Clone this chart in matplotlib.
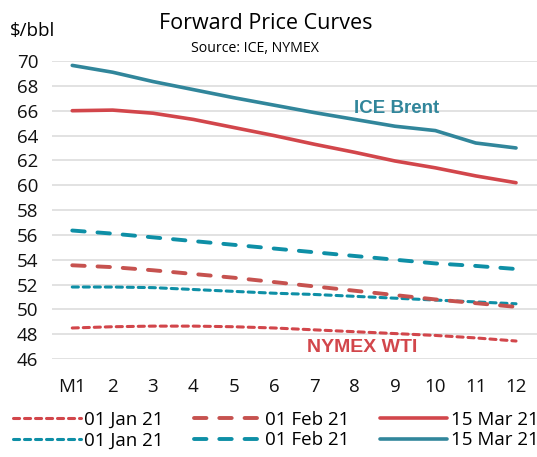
import numpy as np
import matplotlib
matplotlib.use("Agg")
import matplotlib.pyplot as plt

plt.rcParams['font.family'] = ['Open Sans', 'DejaVu Sans']

months = list(range(1, 13))
month_labels = ['M1', '2', '3', '4', '5', '6', '7', '8', '9', '10', '11', '12']

wti_jan = [48.5, 48.6, 48.65, 48.65, 48.6, 48.5, 48.35, 48.2, 48.05, 47.9, 47.7, 47.45]
wti_feb = [53.55, 53.4, 53.15, 52.85, 52.55, 52.2, 51.85, 51.5, 51.15, 50.8, 50.5, 50.2]
wti_mar = [66.0, 66.05, 65.8, 65.3, 64.65, 64.0, 63.3, 62.65, 61.95, 61.4, 60.75, 60.2]
brent_jan = [51.8, 51.8, 51.75, 51.6, 51.45, 51.3, 51.2, 51.05, 50.9, 50.75, 50.6, 50.45]
brent_feb = [56.35, 56.1, 55.8, 55.5, 55.2, 54.9, 54.6, 54.3, 54.0, 53.7, 53.5, 53.25]
brent_mar = [69.65, 69.1, 68.35, 67.7, 67.05, 66.45, 65.85, 65.3, 64.75, 64.4, 63.4, 63.0]

red = '#d2464b'
red_dash = '#c6524f'
teal = '#31869b'
teal_dash = '#0e8fa6'

fig = plt.figure(figsize=(5.37, 4.57), dpi=100)
ax = fig.add_axes([0.097, 0.2144, 0.903, 0.652])

ln = {}
ln['wj'], = ax.plot(months, wti_jan, color=red, lw=2.2, dashes=(2.0, 1.6), dash_capstyle='round')
ln['bj'], = ax.plot(months, brent_jan, color=teal_dash, lw=2.2, dashes=(2.0, 1.6), dash_capstyle='round')
ln['wf'], = ax.plot(months, wti_feb, color=red_dash, lw=2.8, dashes=(3.2, 3.3), dash_capstyle='round')
ln['bf'], = ax.plot(months, brent_feb, color=teal_dash, lw=2.8, dashes=(3.2, 3.3), dash_capstyle='round')
ln['wm'], = ax.plot(months, wti_mar, color=red, lw=2.6, solid_capstyle='round')
ln['bm'], = ax.plot(months, brent_mar, color=teal, lw=2.6, solid_capstyle='round')

ax.set_xlim(0.5, 12.52)
ax.set_ylim(46, 70)
ax.set_yticks(np.arange(46, 71, 2))
ax.set_xticks(months)
ax.set_xticklabels(month_labels)
ax.grid(axis='y', color='#dddddd', lw=1.2)
ax.set_axisbelow(True)
for s in ax.spines.values():
    s.set_visible(False)
ax.tick_params(axis='both', length=0, labelsize=13.5, colors='#111111')
ax.tick_params(axis='y', pad=10)
ax.tick_params(axis='x', pad=14)

fig.text(0.494, 0.948, 'Forward Price Curves', ha='center', va='center', fontsize=15.5)
fig.text(0.475, 0.893, 'Source: ICE, NYMEX', ha='center', va='center', fontsize=10.2)
fig.text(0.018, 0.932, '$/bbl', ha='left', va='center', fontsize=13.5)

ax.text(9.03, 66.2, 'ICE Brent', color=teal, fontsize=13.5, fontweight='bold',
        family='Liberation Sans', ha='center', va='center')
ax.text(8.19, 46.9, 'NYMEX WTI', color=red, fontsize=14, fontweight='bold',
        family='Liberation Sans', ha='center', va='center')

handles = [ln['wj'], ln['bj'], ln['wf'], ln['bf'], ln['wm'], ln['bm']]
labels = ['01 Jan 21', '01 Jan 21', '01 Feb 21', '01 Feb 21', '15 Mar 21', '15 Mar 21']
fig.legend(handles, labels, ncol=3, loc='lower left', bbox_to_anchor=(0.0, -0.012),
           frameon=False, fontsize=13.5, handlelength=3.6, handletextpad=0.2,
           columnspacing=1.6, labelspacing=0.15, borderaxespad=0.3)

fig.savefig('out.png', dpi=100)
